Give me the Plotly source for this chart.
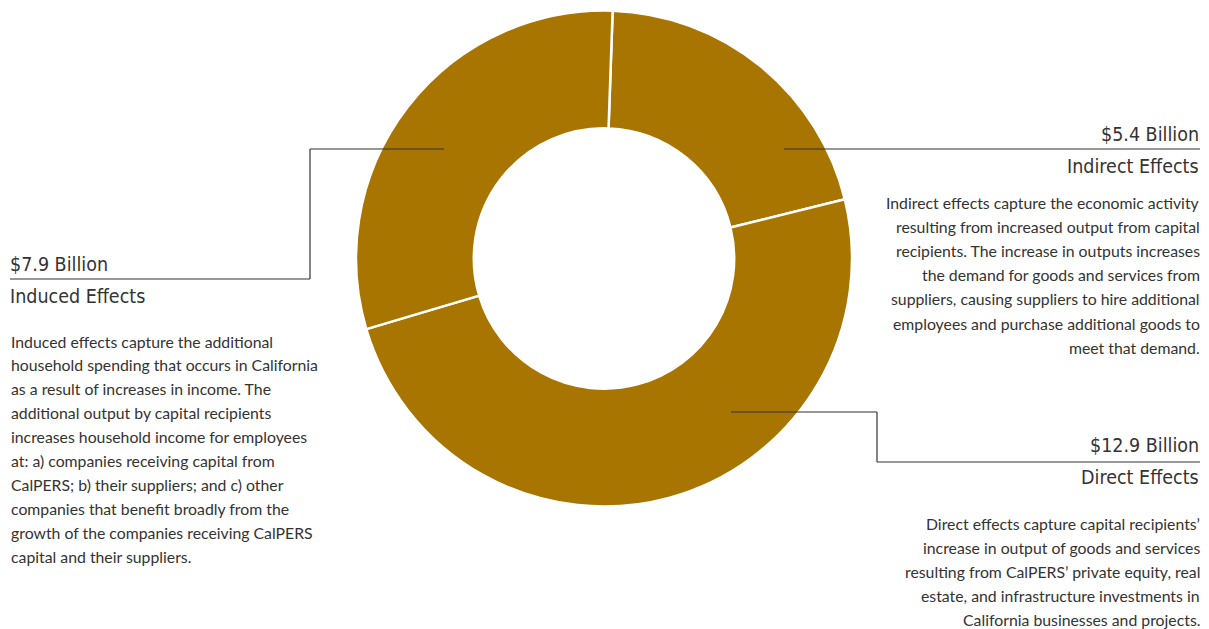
import plotly.graph_objects as go

W, H = 1209, 629

categories = ["Indirect Effects", "Direct Effects", "Induced Effects"]
amounts = [5.4, 12.9, 7.9]  # $ billions
amount_labels = ["$5.4 Billion", "$12.9 Billion", "$7.9 Billion"]

indirect_desc = [
    "Indirect effects capture the economic activity",
    "resulting from increased output from capital",
    "recipients. The increase in outputs increases",
    "the demand for goods and services from",
    "suppliers, causing suppliers to hire additional",
    "employees and purchase additional goods to",
    "meet that demand.",
]
induced_desc = [
    "Induced effects capture the additional",
    "household spending that occurs in California",
    "as a result of increases in income. The",
    "additional output by capital recipients",
    "increases household income for employees",
    "at: a) companies receiving capital from",
    "CalPERS; b) their suppliers; and c) other",
    "companies that benefit broadly from the",
    "growth of the companies receiving CalPERS",
    "capital and their suppliers.",
]
direct_desc = [
    "Direct effects capture capital recipients\u2019",
    "increase in output of goods and services",
    "resulting from CalPERS\u2019 private equity, real",
    "estate, and infrastructure investments in",
    "California businesses and projects.",
]

GOLD = "#A87500"
TXT = "#333333"
HEAD_FONT = "DejaVu Sans Condensed, Roboto, sans-serif"
BODY_FONT = "Lato, Noto Sans, sans-serif"


def px(x):
    return x / W


def py(y):
    return 1 - y / H


fig = go.Figure()
fig.add_trace(go.Pie(
    labels=categories,
    values=amounts,
    hole=0.525,
    sort=False,
    direction="clockwise",
    rotation=2,
    marker=dict(colors=[GOLD] * 3, line=dict(color="white", width=2.5)),
    textinfo="none",
    hoverinfo="label+value",
    showlegend=False,
    domain=dict(x=[px(356), px(852)], y=[py(506.5), py(10.5)]),
))

annotations = []


def add_text(text, x, y, anchor, size, family, weight="normal"):
    annotations.append(dict(
        text=text, x=px(x), y=py(y), xref="paper", yref="paper",
        xanchor=anchor, yanchor="middle", showarrow=False,
        font=dict(family=family, size=size, color=TXT, weight=weight), align=anchor,
    ))


HS = 19.5
# Headings
add_text(amount_labels[0], 1201, 134, "right", HS, HEAD_FONT)
add_text(categories[0], 1201, 166, "right", HS, HEAD_FONT)
add_text(amount_labels[2], 8, 264, "left", HS, HEAD_FONT)
add_text(categories[2], 8, 296, "left", HS, HEAD_FONT)
add_text(amount_labels[1], 1201, 445, "right", HS, HEAD_FONT)
add_text(categories[1], 1201, 477, "right", HS, HEAD_FONT)

BS = 15.8
# Descriptions
for i, line in enumerate(indirect_desc):
    add_text(line, 1202, 202 + i * 24.2, "right", BS, BODY_FONT)
for i, line in enumerate(induced_desc):
    add_text(line, 9, 341 + i * 23.9, "left", BS, BODY_FONT)
for i, line in enumerate(direct_desc):
    add_text(line, 1202, 523 + i * 24, "right", BS, BODY_FONT)

# Leader lines
shapes = []


def seg(x0, y0, x1, y1):
    shapes.append(dict(type="line", xref="paper", yref="paper",
                       x0=px(x0), y0=py(y0), x1=px(x1), y1=py(y1),
                       line=dict(color=TXT, width=1.2)))


seg(784, 149, 1200, 149)
seg(444, 149, 310, 149)
seg(310, 149, 310, 279)
seg(310, 279, 10, 279)
seg(731, 412, 877, 412)
seg(877, 412, 877, 462)
seg(877, 462, 1200, 462)

fig.update_layout(
    width=W, height=H,
    margin=dict(l=0, r=0, t=0, b=0),
    paper_bgcolor="white", plot_bgcolor="white",
    annotations=annotations, shapes=shapes,
)

fig.write_html("out.html")
